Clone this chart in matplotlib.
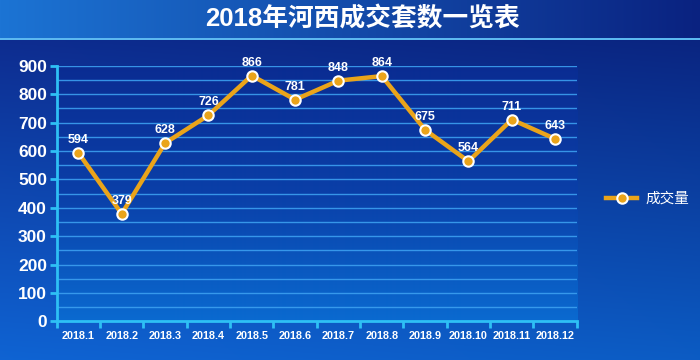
import numpy as np
import matplotlib
matplotlib.use("Agg")
import matplotlib.pyplot as plt
from matplotlib.colors import LinearSegmentedColormap
from matplotlib.lines import Line2D

plt.rcParams['font.family'] = ['Liberation Sans', 'Noto Sans CJK SC', 'DejaVu Sans']

title = "2018年河西成交套数一览表"
months = ["2018.1", "2018.2", "2018.3", "2018.4", "2018.5", "2018.6",
          "2018.7", "2018.8", "2018.9", "2018.10", "2018.11", "2018.12"]
values = [594, 379, 628, 726, 866, 781, 848, 864, 675, 564, 711, 643]
series_name = "成交量"

fig = plt.figure(figsize=(7, 3.6), dpi=100)

# background
bg = fig.add_axes([0, 0, 1, 1], zorder=-10)
bg.set_axis_off()
H, W = 360, 700
yy, xx = np.mgrid[0:H, 0:W]
img = np.zeros((H, W, 3))
top = np.array([0x0a, 0x1e, 0x78]) / 255
bot = np.array([0x0c, 0x5c, 0xc4]) / 255
t = (yy / H)[..., None]
img[:] = top * (1 - t) + bot * t
sx = (1 - xx / W)[..., None] * 0.06
img = np.clip(img + sx * np.array([0.2, 0.5, 1.0]), 0, 1)
band_h = 38
tb = xx[:band_h] / W
left_c = np.array([0x1c, 0x74, 0xd4]) / 255
right_c = np.array([0x0a, 0x22, 0x80]) / 255
img[:band_h] = left_c * (1 - tb[..., None]) + right_c * tb[..., None]
img[band_h:band_h + 2] = np.array([0x5c, 0xb8, 0xf0]) / 255
bg.imshow(img, extent=[0, 1, 0, 1], aspect='auto', transform=bg.transAxes)
bg.set_xlim(0, 1); bg.set_ylim(0, 1)

fig.text(0.518, 0.948, title, color='white', fontsize=18.5, fontweight='bold',
         ha='center', va='center')

ax = fig.add_axes([0.081, 0.107, 0.743, 0.710])
ax.set_xlim(-0.5, len(months) - 0.5)
ax.set_ylim(0, 900)
cmap = LinearSegmentedColormap.from_list('pa', ['#0a6ad0', '#0a3fa8', '#0a2c92'])
grad = np.linspace(0, 1, 256).reshape(-1, 1)
ax.imshow(grad, extent=[-0.5, len(months) - 0.5, 0, 900], aspect='auto',
          cmap=cmap, origin='lower', zorder=0)

for yv in np.arange(50, 901, 50):
    ax.axhline(yv, color='#3c9ff0', lw=1.0, zorder=1, alpha=0.9)

x = np.arange(len(months))
ax.plot(x, values, color='#eaa41a', lw=3.2, zorder=3, solid_joinstyle='round')
ax.plot(x, values, 'o', ms=7.5, mfc='#eaa41a', mec='white', mew=1.5, zorder=4)
for xi, v in zip(x, values):
    ax.annotate(str(v), (xi, v), xytext=(0, 5), textcoords='offset points',
                ha='center', va='bottom', color='white', fontsize=9,
                fontweight='bold', zorder=5)

spine_c = '#2ec0f5'
for s in ['top', 'right']:
    ax.spines[s].set_visible(False)
for s in ['left', 'bottom']:
    ax.spines[s].set_color(spine_c)
    ax.spines[s].set_linewidth(2)

ax.set_yticks(np.arange(0, 901, 100))
ax.set_yticklabels([str(v) for v in range(0, 901, 100)], color='white',
                   fontsize=12.5, fontweight='bold')
ax.tick_params(axis='y', colors=spine_c, length=5, width=2, labelcolor='white', pad=2)
ax.set_xticks(x)
ax.set_xticklabels(months, color='white', fontsize=7.8, fontweight='bold')
ax.tick_params(axis='x', length=0, pad=7, labelcolor='white')
ax.set_xticks(np.arange(-0.5, len(months), 1), minor=True)
ax.tick_params(axis='x', which='minor', length=5, width=2, colors=spine_c)

handle = Line2D([0], [0], color='#eaa41a', lw=3.2, marker='o', ms=7.5,
                mfc='#eaa41a', mec='white', mew=1.5)
leg = fig.legend([handle], [series_name], loc='center left',
                 bbox_to_anchor=(0.866, 0.448), frameon=False,
                 handlelength=2.1, handletextpad=0.6, fontsize=10.5,
                 borderaxespad=0, borderpad=0)
for txt in leg.get_texts():
    txt.set_color('white')

fig.savefig('out.png', dpi=100)
